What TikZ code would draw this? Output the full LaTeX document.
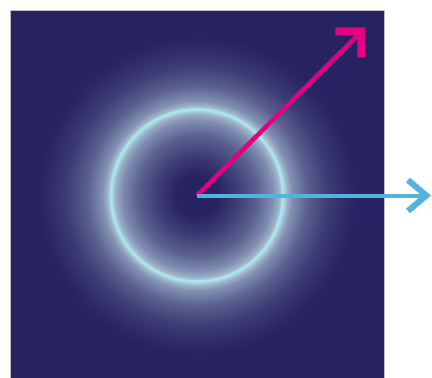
\documentclass[tikz,border=0pt]{standalone}
\usetikzlibrary{arrows.meta}
\definecolor{navy}{RGB}{39,34,98}
\definecolor{glowc}{RGB}{186,212,228}
\definecolor{ringc}{RGB}{172,226,232}
\definecolor{magc}{RGB}{230,0,128}
\definecolor{bluec}{RGB}{80,180,220}
\colorlet{glowA}{glowc!4!navy}
\colorlet{glowB}{glowc!15!navy}
\colorlet{glowC}{glowc!35!navy}
\colorlet{glowD}{glowc!60!navy}
\colorlet{glowE}{glowc!80!navy}
\colorlet{glowF}{glowc!62!navy}
\pgfdeclareradialshading{halo}{\pgfpoint{0bp}{0bp}}{%
  color(0bp)=(navy); color(2.9bp)=(navy); color(5.8bp)=(glowB);
  color(8.7bp)=(glowC); color(10.9bp)=(glowD); color(11.9bp)=(glowE);
  color(12.5bp)=(ringc); color(13.1bp)=(glowE); color(13.8bp)=(glowF);
  color(16bp)=(glowC); color(18.9bp)=(glowB); color(21.8bp)=(glowA);
  color(23.3bp)=(navy); color(50bp)=(navy)}

\begin{document}
\begin{tikzpicture}[
    x=1pt, y=-1pt,
    panel/.style={
        fill=navy,
        draw=black!25,
        line width=0.6pt
    },
    ring/.style={
        draw=ringc,
        line width=2.6pt
    },
    tilted/.style={
        -{Straight Barb[angle=90:26pt, line width'=8pt]},
        line width=4.5pt,
        draw=magc
    },
    level/.style={
        -{Straight Barb[angle=80:24pt, line width'=6pt]},
        line width=4pt,
        draw=bluec
    }
]
\useasboundingbox (0,0) rectangle (432,378);
\draw[panel] (10.5,10) rectangle (384,381);
\coordinate (ctr) at (197,195.5);
\coordinate (magtip) at (365.5,27.5);
\coordinate (bluetip) at (431,195.5);
\shade[shading=halo] (ctr) circle (172);
\draw[ring] (ctr) circle (86);
\draw[tilted] (ctr) -- (magtip);
\draw[level] (ctr) -- (bluetip);
\end{tikzpicture}
\end{document}
